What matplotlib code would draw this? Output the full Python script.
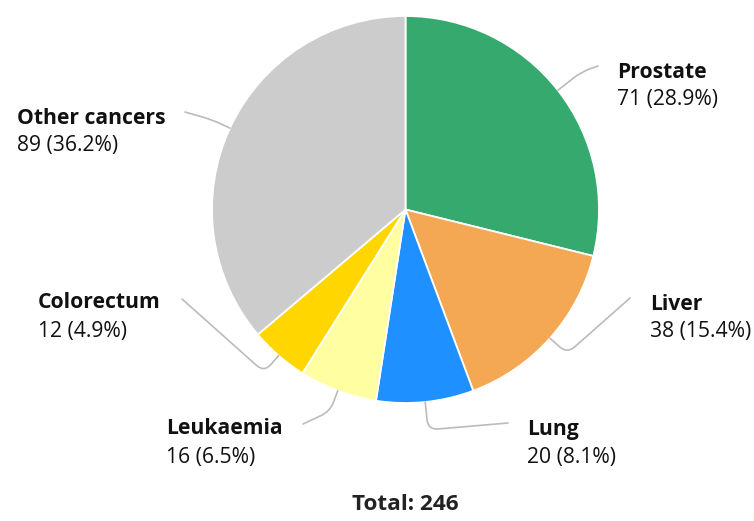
import numpy as np
import matplotlib
matplotlib.use("Agg")
import matplotlib.pyplot as plt
from matplotlib.path import Path
from matplotlib.patches import PathPatch

categories = ["Prostate", "Liver", "Lung", "Leukaemia", "Colorectum", "Other cancers"]
values = [71, 38, 20, 16, 12, 89]
colors = ["#36a96e", "#f4a854", "#1f90ff", "#ffffa1", "#ffd600", "#cccccc"]

W, H = 754, 521
plt.rcParams['font.family'] = ['Open Sans', 'DejaVu Sans']

fig = plt.figure(figsize=(W / 100, H / 100), dpi=100)
ax = fig.add_axes([0, 0, 1, 1])
ax.set_xlim(0, W)
ax.set_ylim(0, H)
ax.set_aspect('equal')
ax.axis('off')

def Y(y):
    return H - y

cx, cy, R = 405.5, Y(209.5), 193.5
wedges, _ = ax.pie(values, colors=colors, startangle=90, counterclock=False,
                   center=(cx, cy), radius=R, frame=True,
                   wedgeprops=dict(edgecolor='white', linewidth=1.3))
ax.set_xlim(0, W)
ax.set_ylim(0, H)
ax.axis('off')

total = sum(values)

layout = {
    "Prostate":      dict(tx=617, ty=72,  ex=598, ey=66,  d=30),
    "Liver":         dict(tx=650, ty=304, ex=630, ey=298, d=23),
    "Lung":          dict(tx=527, ty=429, ex=508, ey=423, d=28),
    "Leukaemia":     dict(tx=166, ty=429, ex=303, ey=424, d=22),
    "Colorectum":    dict(tx=38,  ty=303, ex=182, ey=299, d=22),
    "Other cancers": dict(tx=17,  ty=118, ex=185, ey=112, d=20),
}

fs = 15.2
for w, name, v in zip(wedges, categories, values):
    L = layout[name]
    mid = np.deg2rad((w.theta1 + w.theta2) / 2)
    ux, uy = np.cos(mid), np.sin(mid)
    ax0, ay0 = cx + R * ux, cy + R * uy
    kx, ky = ax0 + L['d'] * ux, ay0 + L['d'] * uy
    ex, ey = L['ex'], Y(L['ey'])
    rr = 10
    v1 = np.array([ax0 - kx, ay0 - ky]); v1 /= np.linalg.norm(v1)
    v2 = np.array([ex - kx, ey - ky]); v2 /= np.linalg.norm(v2)
    pa = (kx + rr * v1[0], ky + rr * v1[1])
    pb = (kx + rr * v2[0], ky + rr * v2[1])
    verts = [(ax0, ay0), pa, (kx, ky), pb, (ex, ey)]
    codes = [Path.MOVETO, Path.LINETO, Path.CURVE3, Path.CURVE3, Path.LINETO]
    ax.add_patch(PathPatch(Path(verts, codes), fill=False, edgecolor='#bbbbbb',
                           lw=1.2, capstyle='round', joinstyle='round'))
    ax.text(L['tx'], Y(L['ty']), name, fontsize=fs, fontweight='bold',
            color='#111111', ha='left', va='center')
    ax.text(L['tx'], Y(L['ty'] + 28), f"{v} ({v / total * 100:.1f}%)", fontsize=fs,
            color='#111111', ha='left', va='center')

ax.text(405.5, Y(504), f"Total: {total}", fontsize=16.2, fontweight='bold',
        color='#222222', ha='center', va='center')

fig.savefig("out.png", dpi=100)
